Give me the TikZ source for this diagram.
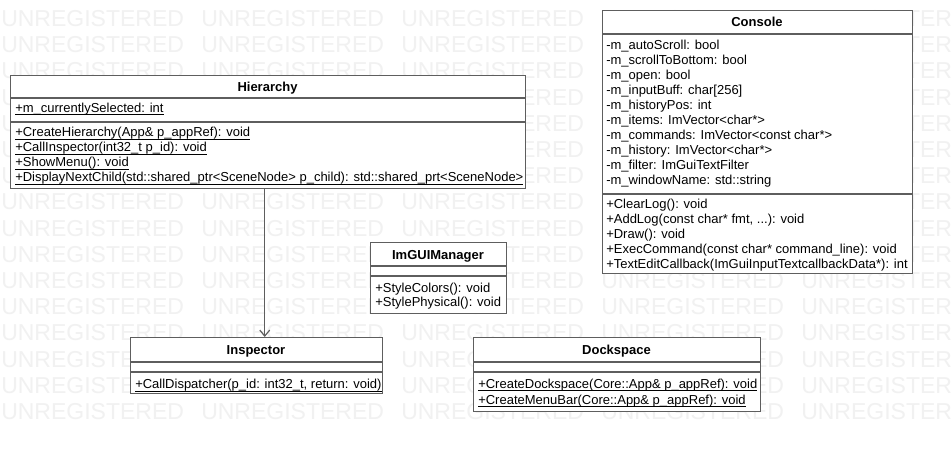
\documentclass[tikz,border=0pt]{standalone}
\usepackage{fontspec}
\setmainfont{Liberation Sans}
\usetikzlibrary{arrows.meta}
\definecolor{wmgray}{HTML}{F1F1F1}
\definecolor{linegray}{HTML}{5E5E5E}
\newcommand\myul[1]{\setbox0\hbox{#1}\rlap{\rule[-2.2pt]{\wd0}{0.7pt}}\box0}
\tikzset{
  wm/.style={font=\fontsize{17.25pt}{18pt}\selectfont, text=wmgray, inner sep=0pt, anchor=base west},
  clsbox/.style={draw=linegray, line width=1.05pt, fill=white, inner sep=0pt, anchor=north west},
  sepline/.style={draw=linegray, line width=1.05pt},
  ctitle/.style={font=\fontsize{9.75pt}{11pt}\selectfont\bfseries, inner sep=0pt, anchor=base},
  mem/.style={font=\fontsize{9.75pt}{11pt}\selectfont, inner sep=0pt, anchor=base west},
  dep/.style={draw=linegray, line width=0.9pt, -{Straight Barb[length=4.5pt,width=7.5pt]}}
}
\begin{document}
\begin{tikzpicture}[x=0.75pt,y=-0.75pt]
\useasboundingbox (0,0) rectangle (951,450);
\fill[white] (0,0) rectangle (951,450);
% watermark
\foreach \r in {0,...,15}{
  \foreach \c in {0,...,4}{
    \node[wm] (wm-\r-\c) at (\c*200+1, 26.5+\r*26.2) {UNREGISTERED};
  }
}
% Hierarchy
\node[clsbox, minimum width=515*0.75pt, minimum height=113*0.75pt] (hier) at (10,75) {};
\draw[sepline] (hier.west |- 0,98) -- (hier.east |- 0,98);
\draw[sepline] (hier.west |- 0,122) -- (hier.east |- 0,122);
\node[ctitle] (hierT) at (267.5,91) {Hierarchy};
\node[mem] (h1) at (15,112) {\myul{+m\_currentlySelected: int}};
\node[mem] (h2) at (15,136.5) {\myul{+CreateHierarchy(App\& p\_appRef): void}};
\node[mem] (h3) at (15,151.5) {\myul{+CallInspector(int32\_t p\_id): void}};
\node[mem] (h4) at (15,166.5) {\myul{+ShowMenu(): void}};
\node[mem] (h5) at (15,181.5) {\myul{+DisplayNextChild(std::shared\_ptr<SceneNode> p\_child): std::shared\_prt<SceneNode>}};
% Console
\node[clsbox, minimum width=310*0.75pt, minimum height=263*0.75pt] (cons) at (602,10) {};
\draw[sepline] (cons.west |- 0,34) -- (cons.east |- 0,34);
\draw[sepline] (cons.west |- 0,194) -- (cons.east |- 0,194);
\node[ctitle] (consT) at (757,26.5) {Console};
\node[mem] (c1) at (606,49) {-m\_autoScroll: bool};
\node[mem] (c2) at (606,64.1) {-m\_scrollToBottom: bool};
\node[mem] (c3) at (606,79.2) {-m\_open: bool};
\node[mem] (c4) at (606,94.3) {-m\_inputBuff: char[256]};
\node[mem] (c5) at (606,109.4) {-m\_historyPos: int};
\node[mem] (c6) at (606,124.5) {-m\_items: ImVector<char*>};
\node[mem] (c7) at (606,139.6) {-m\_commands: ImVector<const char*>};
\node[mem] (c8) at (606,154.7) {-m\_history: ImVector<char*>};
\node[mem] (c9) at (606,169.8) {-m\_filter: ImGuiTextFilter};
\node[mem] (c10) at (606,184.9) {-m\_windowName: std::string};
\node[mem] (c11) at (606,208) {+ClearLog(): void};
\node[mem] (c12) at (606,223) {+AddLog(const char* fmt, ...): void};
\node[mem] (c13) at (606,238) {+Draw(): void};
\node[mem] (c14) at (606,253) {+ExecCommand(const char* command\_line): void};
\node[mem] (c15) at (606,268) {+TextEditCallback(ImGuiInputTextcallbackData*): int};
% ImGUIManager
\node[clsbox, minimum width=136*0.75pt, minimum height=71*0.75pt] (imgui) at (370,242) {};
\draw[sepline] (imgui.west |- 0,266) -- (imgui.east |- 0,266);
\draw[sepline] (imgui.west |- 0,276) -- (imgui.east |- 0,276);
\node[ctitle] (imguiT) at (438,259) {ImGUIManager};
\node[mem] (g1) at (375,292) {+StyleColors(): void};
\node[mem] (g2) at (375,306) {+StylePhysical(): void};
% Inspector
\node[clsbox, minimum width=252*0.75pt, minimum height=56*0.75pt] (insp) at (130,337) {};
\draw[sepline] (insp.west |- 0,362) -- (insp.east |- 0,362);
\draw[sepline] (insp.west |- 0,372) -- (insp.east |- 0,372);
\node[ctitle] (inspT) at (256,354) {Inspector};
\node[mem] (i1) at (135,388.5) {\myul{+CallDispatcher(p\_id: int32\_t, return: void)}};
% Dockspace
\node[clsbox, minimum width=287*0.75pt, minimum height=74*0.75pt] (dock) at (473,337) {};
\draw[sepline] (dock.west |- 0,362) -- (dock.east |- 0,362);
\draw[sepline] (dock.west |- 0,372) -- (dock.east |- 0,372);
\node[ctitle] (dockT) at (616.5,354) {Dockspace};
\node[mem] (d1) at (478,388) {\myul{+CreateDockspace(Core::App\& p\_appRef): void}};
\node[mem] (d2) at (478,404) {\myul{+CreateMenuBar(Core::App\& p\_appRef): void}};
% dependency
\coordinate (hs) at ([xshift=-2.6pt]hier.south);
\draw[dep] (hs) -- (hs |- insp.north);
\end{tikzpicture}
\end{document}
